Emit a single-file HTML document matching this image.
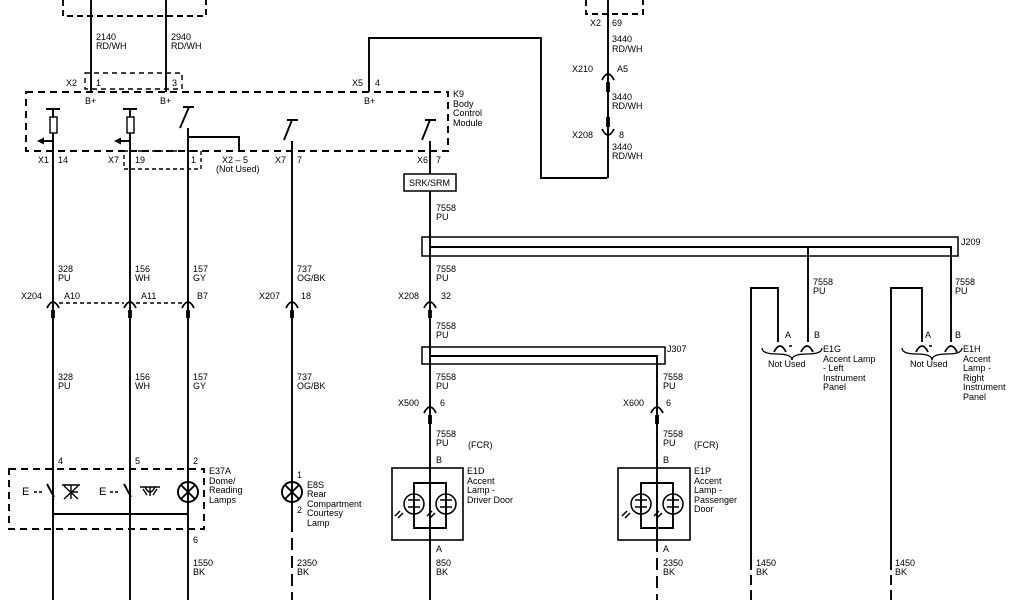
<!DOCTYPE html>
<html><head><meta charset="utf-8"><style>
html,body{margin:0;padding:0;background:#fff;width:1024px;height:600px;overflow:hidden}
svg{display:block}
text{font-family:"Liberation Sans",sans-serif;font-size:9px;fill:#000}
</style></head><body>
<svg width="1024" height="600" viewBox="0 0 1024 600" xmlns="http://www.w3.org/2000/svg">
<g stroke="#000" fill="none" stroke-width="1.9">
<path d="M63 0V16H206V0" stroke-dasharray="6,4"/>
<line x1="91" y1="0" x2="91" y2="92"/>
<line x1="166" y1="0" x2="166" y2="92"/>
<rect x="85" y="73" width="97" height="16" stroke-dasharray="5,4" stroke-width="1.4"/>
<rect x="26" y="92" width="422" height="59" stroke-dasharray="7,5"/>
<rect x="124" y="151" width="77" height="18" stroke-dasharray="4,3" stroke-width="1.4"/>
<path d="M369 92V38H541V178H607"/>
<path d="M46 109H60M53 109V117M53 133V600"/>
<rect x="50" y="117" width="7" height="16" stroke-width="1.4"/>
<path d="M53 141H40"/>
<path d="M123 109H137M130 109V117M130 133V600"/>
<rect x="127" y="117" width="7" height="16" stroke-width="1.4"/>
<path d="M130 141H117"/>
<path d="M183 107H194M189 107L180 128M188 128V600"/>
<path d="M188 137H239V151"/>
<path d="M287 120H298M292 120L284 140M292 141V520"/>
<path d="M425 120H436M430 120L422 140M430 141V174M430 191V600"/>
<rect x="404" y="174" width="52" height="17" stroke-width="1.5"/>
<path d="M586 0V14H643V0" stroke-dasharray="6,4"/>
<line x1="608" y1="0" x2="608" y2="178"/>
<rect x="422" y="237" width="536" height="19" stroke-width="1.5"/>
<path d="M430 247H951V300M808 247V342"/>
<path d="M751 560V288H778V342"/>
<path d="M751 560V600" stroke-dasharray="10,5"/>
<path d="M891 560V288H922V342"/>
<path d="M891 560V600" stroke-dasharray="10,5"/>
<path d="M951 300V342"/>
<rect x="422" y="347" width="243" height="17" stroke-width="1.5"/>
<path d="M430 356H657V540"/>
<path d="M59 303H124M136 303H182" stroke-dasharray="4,3" stroke-width="1.4"/>
<rect x="9" y="469" width="195" height="60" stroke-dasharray="7,5"/>
<path d="M53 496V514H188M130 496V514"/>
<path d="M47 484L54 497M124 484L131 497"/>
<path d="M34 492H44M110 492H120" stroke-dasharray="3,2" stroke-width="1.4"/>
<circle cx="188" cy="492" r="10"/>
<path d="M181 485L195 499M195 485L181 499"/>
<circle cx="292" cy="492" r="10"/>
<path d="M285 485L299 499M299 485L285 499"/>
<path d="M292 520V600" stroke-dasharray="12,6"/>
<g stroke-width="1.4">
<path d="M62 485H80M71 485V499M64 499L78 486M64 486L78 499M71 492L78 492"/>
<path d="M140 487H160M145 487Q150 497 155 487M150 487V496M143 489L147 495M157 489L153 495"/>
</g>
<rect x="392" y="468" width="71" height="72" stroke-width="1.6"/>
<path d="M414 483H446V528H414Z"/>
<rect x="618" y="468" width="72" height="72" stroke-width="1.6"/>
<path d="M641 483H673V528H641Z"/>
<g stroke-width="1.5">
<circle cx="414" cy="504" r="10"/><circle cx="446" cy="504" r="10"/>
<circle cx="641" cy="504" r="10"/><circle cx="673" cy="504" r="10"/>
<path d="M408 500H420M440 500H452M635 500H647M667 500H679M408 507H420M440 507H452M635 507H647M667 507H679"/>
<path d="M403 513L398 518M400 511L395 516M435 513L430 518M432 511L427 516M630 513L625 518M627 511L622 516M662 513L657 518M659 511L654 516"/>
</g>
<path d="M657 540V600" stroke-dasharray="12,6"/>
<g stroke-width="1.8">
<path d="M47 308Q53 296 59 308M124 308Q130 296 136 308M182 308Q188 296 194 308M286 308Q292 296 298 308M424 308Q430 296 436 308"/>
<path d="M424 413Q430 401 436 413M651 413Q657 401 663 413"/>
<path d="M602 80Q608 68 614 80M602 129Q608 141 614 129"/>
<path d="M774 352Q780 340 786 352M801 352Q807 340 813 352M916 352Q922 340 928 352M945 352Q951 340 957 352"/>
<path d="M762 348Q762 354 777 354Q792 354 792 360Q792 354 807 354Q822 354 822 348" stroke-width="1.3"/>
<path d="M902 348Q902 354 917 354Q932 354 932 360Q932 354 947 354Q962 354 962 348" stroke-width="1.3"/>
</g>
<g stroke-width="3.8">
<path d="M53 310V318M130 310V318M188 310V318M292 310V318M430 310V318M430 415V424M657 415V424M608 82V92M608 117V127"/>
</g>
<path d="M789 346H792M929 346H932" stroke-width="1.5"/>
</g>
<g fill="#000" stroke="none">
<path d="M37 141L44 137.5V144.5Z M114 141L121 137.5V144.5Z"/>
</g>
<text x="96" y="40">2140</text><text x="96" y="49">RD/WH</text>
<text x="171" y="40">2940</text><text x="171" y="49">RD/WH</text>
<text x="66" y="86">X2</text><text x="96" y="86">1</text><text x="172" y="86">3</text>
<text x="352" y="86">X5</text><text x="375" y="86">4</text>
<text x="85" y="104">B+</text><text x="160" y="104">B+</text><text x="364" y="104">B+</text>
<text x="453" y="97">K9</text><text x="453" y="107">Body</text><text x="453" y="116">Control</text><text x="453" y="126">Module</text>
<text x="38" y="163">X1</text><text x="58" y="163">14</text>
<text x="108" y="163">X7</text><text x="135" y="163">19</text><text x="191" y="163">1</text>
<text x="222" y="163">X2 – 5</text><text x="216" y="172">(Not Used)</text>
<text x="275" y="163">X7</text><text x="297" y="163">7</text>
<text x="417" y="163">X6</text><text x="436" y="163">7</text>
<text x="409" y="186">SRK/SRM</text>
<text x="436" y="211">7558</text><text x="436" y="220">PU</text>
<text x="590" y="26">X2</text><text x="612" y="26">69</text>
<text x="612" y="42">3440</text><text x="612" y="52">RD/WH</text>
<text x="572" y="72">X210</text><text x="617" y="72">A5</text>
<text x="612" y="100">3440</text><text x="612" y="109">RD/WH</text>
<text x="572" y="138">X208</text><text x="619" y="138">8</text>
<text x="612" y="150">3440</text><text x="612" y="159">RD/WH</text>
<text x="961" y="245">J209</text>
<text x="58" y="272">328</text><text x="58" y="281">PU</text>
<text x="135" y="272">156</text><text x="135" y="281">WH</text>
<text x="193" y="272">157</text><text x="193" y="281">GY</text>
<text x="297" y="272">737</text><text x="297" y="281">OG/BK</text>
<text x="436" y="272">7558</text><text x="436" y="281">PU</text>
<text x="813" y="285">7558</text><text x="813" y="294">PU</text>
<text x="955" y="285">7558</text><text x="955" y="294">PU</text>
<text x="21" y="299">X204</text><text x="64" y="299">A10</text><text x="141" y="299">A11</text><text x="197" y="299">B7</text>
<text x="259" y="299">X207</text><text x="301" y="299">18</text>
<text x="398" y="299">X208</text><text x="441" y="299">32</text>
<text x="436" y="329">7558</text><text x="436" y="338">PU</text>
<text x="785" y="338">A</text><text x="814" y="338">B</text>
<text x="925" y="338">A</text><text x="955" y="338">B</text>
<text x="667" y="352">J307</text>
<text x="823" y="352">E1G</text><text x="823" y="362">Accent Lamp</text><text x="823" y="371">- Left</text><text x="823" y="381">Instrument</text><text x="823" y="390">Panel</text>
<text x="963" y="352">E1H</text><text x="963" y="362">Accent</text><text x="963" y="371">Lamp -</text><text x="963" y="381">Right</text><text x="963" y="390">Instrument</text><text x="963" y="400">Panel</text>
<text x="768" y="367">Not Used</text><text x="910" y="367">Not Used</text>
<text x="58" y="380">328</text><text x="58" y="389">PU</text>
<text x="135" y="380">156</text><text x="135" y="389">WH</text>
<text x="193" y="380">157</text><text x="193" y="389">GY</text>
<text x="297" y="380">737</text><text x="297" y="389">OG/BK</text>
<text x="436" y="380">7558</text><text x="436" y="389">PU</text>
<text x="663" y="380">7558</text><text x="663" y="389">PU</text>
<text x="398" y="406">X500</text><text x="440" y="406">6</text>
<text x="623" y="406">X600</text><text x="666" y="406">6</text>
<text x="436" y="437">7558</text><text x="436" y="446">PU</text><text x="468" y="448">(FCR)</text>
<text x="663" y="437">7558</text><text x="663" y="446">PU</text><text x="694" y="448">(FCR)</text>
<text x="58" y="464">4</text><text x="135" y="464">5</text><text x="193" y="464">2</text>
<text x="436" y="463">B</text><text x="663" y="463">B</text>
<text x="209" y="474">E37A</text><text x="209" y="484">Dome/</text><text x="209" y="493">Reading</text><text x="209" y="503">Lamps</text>
<text x="297" y="478">1</text><text x="297" y="513">2</text>
<text x="307" y="488">E8S</text><text x="307" y="497">Rear</text><text x="307" y="507">Compartment</text><text x="307" y="516">Courtesy</text><text x="307" y="526">Lamp</text>
<text x="467" y="474">E1D</text><text x="467" y="484">Accent</text><text x="467" y="493">Lamp -</text><text x="467" y="503">Driver Door</text>
<text x="694" y="474">E1P</text><text x="694" y="484">Accent</text><text x="694" y="493">Lamp -</text><text x="694" y="503">Passenger</text><text x="694" y="512">Door</text>
<text x="22" y="495" style="font-size:11px">E</text><text x="99" y="495" style="font-size:11px">E</text>
<text x="193" y="543">6</text>
<text x="436" y="552">A</text><text x="663" y="552">A</text>
<text x="193" y="566">1550</text><text x="193" y="575">BK</text>
<text x="297" y="566">2350</text><text x="297" y="575">BK</text>
<text x="436" y="566">850</text><text x="436" y="575">BK</text>
<text x="663" y="566">2350</text><text x="663" y="575">BK</text>
<text x="756" y="566">1450</text><text x="756" y="575">BK</text>
<text x="895" y="566">1450</text><text x="895" y="575">BK</text>
</svg>
</body></html>
